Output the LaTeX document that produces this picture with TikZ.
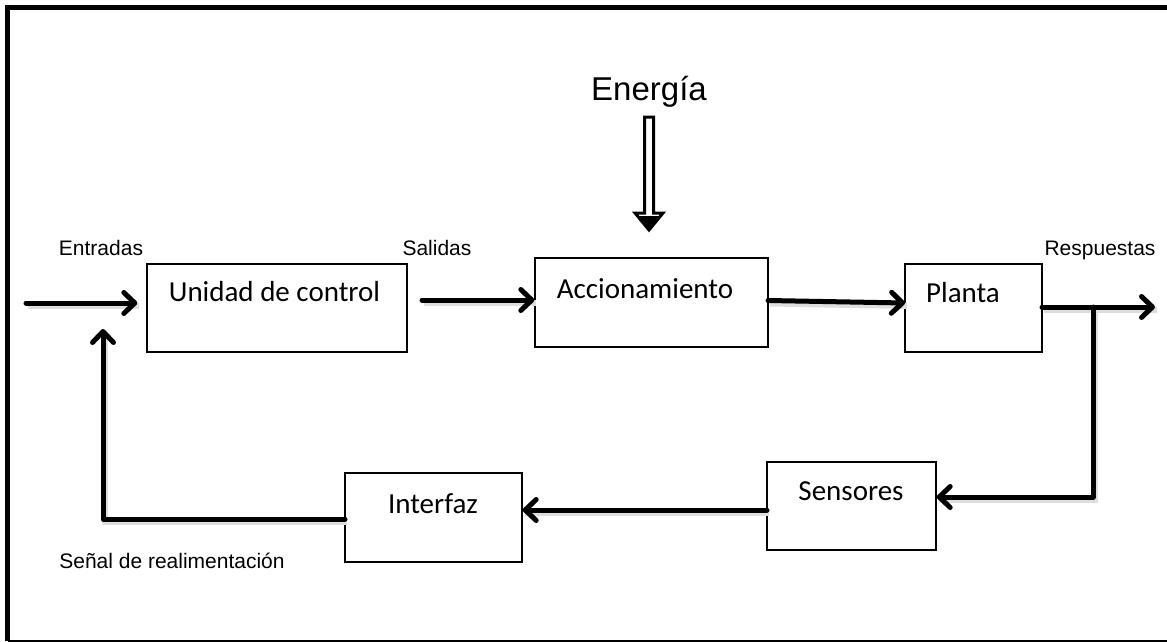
\documentclass[tikz,border=0pt]{standalone}
\usepackage{fontspec}
\setmainfont{Liberation Sans}
\newfontfamily\boxfont{Carlito}
\usetikzlibrary{arrows.meta,calc}
\tikzset{
  blk/.style={draw, line width=1.4pt, inner sep=0pt},
  blktext/.style={font=\boxfont\fontsize{29}{34}\selectfont, anchor=base, inner sep=0pt},
  small/.style={font=\fontsize{21}{25}\selectfont, anchor=base, inner sep=0pt},
  flow/.style={line width=5pt, line cap=round, line join=round,
    -{Straight Barb[length=11pt,width=21pt,round]},
    preaction={draw=black!13, line width=6pt, -,
      transform canvas={shift={(2pt,-3pt)}}}},
  frameline/.style={line width=5pt}
}
\begin{document}
\begin{tikzpicture}[x=1pt,y=-1pt]
\useasboundingbox (0,0) rectangle (1167,642);
\fill[white] (0,0) rectangle (1167,642);

% outer frame (open on the right)
\draw[frameline] (1167,7.5) -- (7.5,7.5) -- (7.5,641);
\draw[line width=2pt] (7.5,640.5) -- (1167,640.5);

% blocks
\node[blk, minimum width=260pt, minimum height=88pt] (u) at (277,308) {};
\node[blk, minimum width=233pt, minimum height=89pt] (a) at (651.5,302.5) {};
\node[blk, minimum width=137pt, minimum height=88pt] (p) at (973.5,308) {};
\node[blk, minimum width=169pt, minimum height=88pt] (s) at (851.5,506) {};
\node[blk, minimum width=177pt, minimum height=89pt] (i) at (433.5,517.5) {};

% block captions
\node[blktext] (ut) at (274.5,301.5) {Unidad de control};
\node[blktext] (at) at (645,298.5) {Accionamiento};
\node[blktext] (pt) at (963,302) {Planta};
\node[blktext] (st) at (851,500.5) {Sensores};
\node[blktext] (it) at (433,513.5) {Interfaz};

% signal names
\node[small] (ent) at (101,255) {Entradas};
\node[small] (sal) at (437,255) {Salidas};
\node[small] (res) at (1100,255) {Respuestas};
\node[small] (sen) at (172,568) {Señal de realimentación};
\node[font=\fontsize{33}{38}\selectfont, anchor=base, inner sep=0pt] (en) at (649,100) {Energía};

% energy supply arrow (hollow shaft, heavy head)
\draw[line width=3pt, line join=miter, fill=white]
  (644.5,117) -- (653.5,117) -- (653.5,213) -- (663,213) -- (649,230)
  -- (635,213) -- (644.5,213) -- cycle;
\fill (639,216) -- (659,216) -- (649,228) -- cycle;

% forward path
\coordinate (in) at (26,303);
\draw[flow, shorten >=9pt] (in) -- (in -| u.west);
\coordinate (uo) at (422,300);
\draw[flow] (uo) -- (uo -| a.west);
\coordinate (ao) at (768,300.5);
\coordinate (pi) at (905,303);
\draw[flow] (ao) -- (pi);
\coordinate (po) at (1042,307);
\coordinate (out) at (1155,307);
\draw[flow] (po) -- (out);

% feedback path
\coordinate (br) at (1093,307);
\coordinate (sb) at (1093,497);
\draw[flow] (br) -- (sb) -- (sb -| s.east);
\coordinate (so) at (767,510);
\draw[flow] (so) -- (so -| i.east);
\coordinate (io) at (345,519);
\coordinate (fc) at (103,519);
\coordinate (ft) at (103,329);
\draw[flow] (io) -- (fc) -- (ft);
\end{tikzpicture}
\end{document}
